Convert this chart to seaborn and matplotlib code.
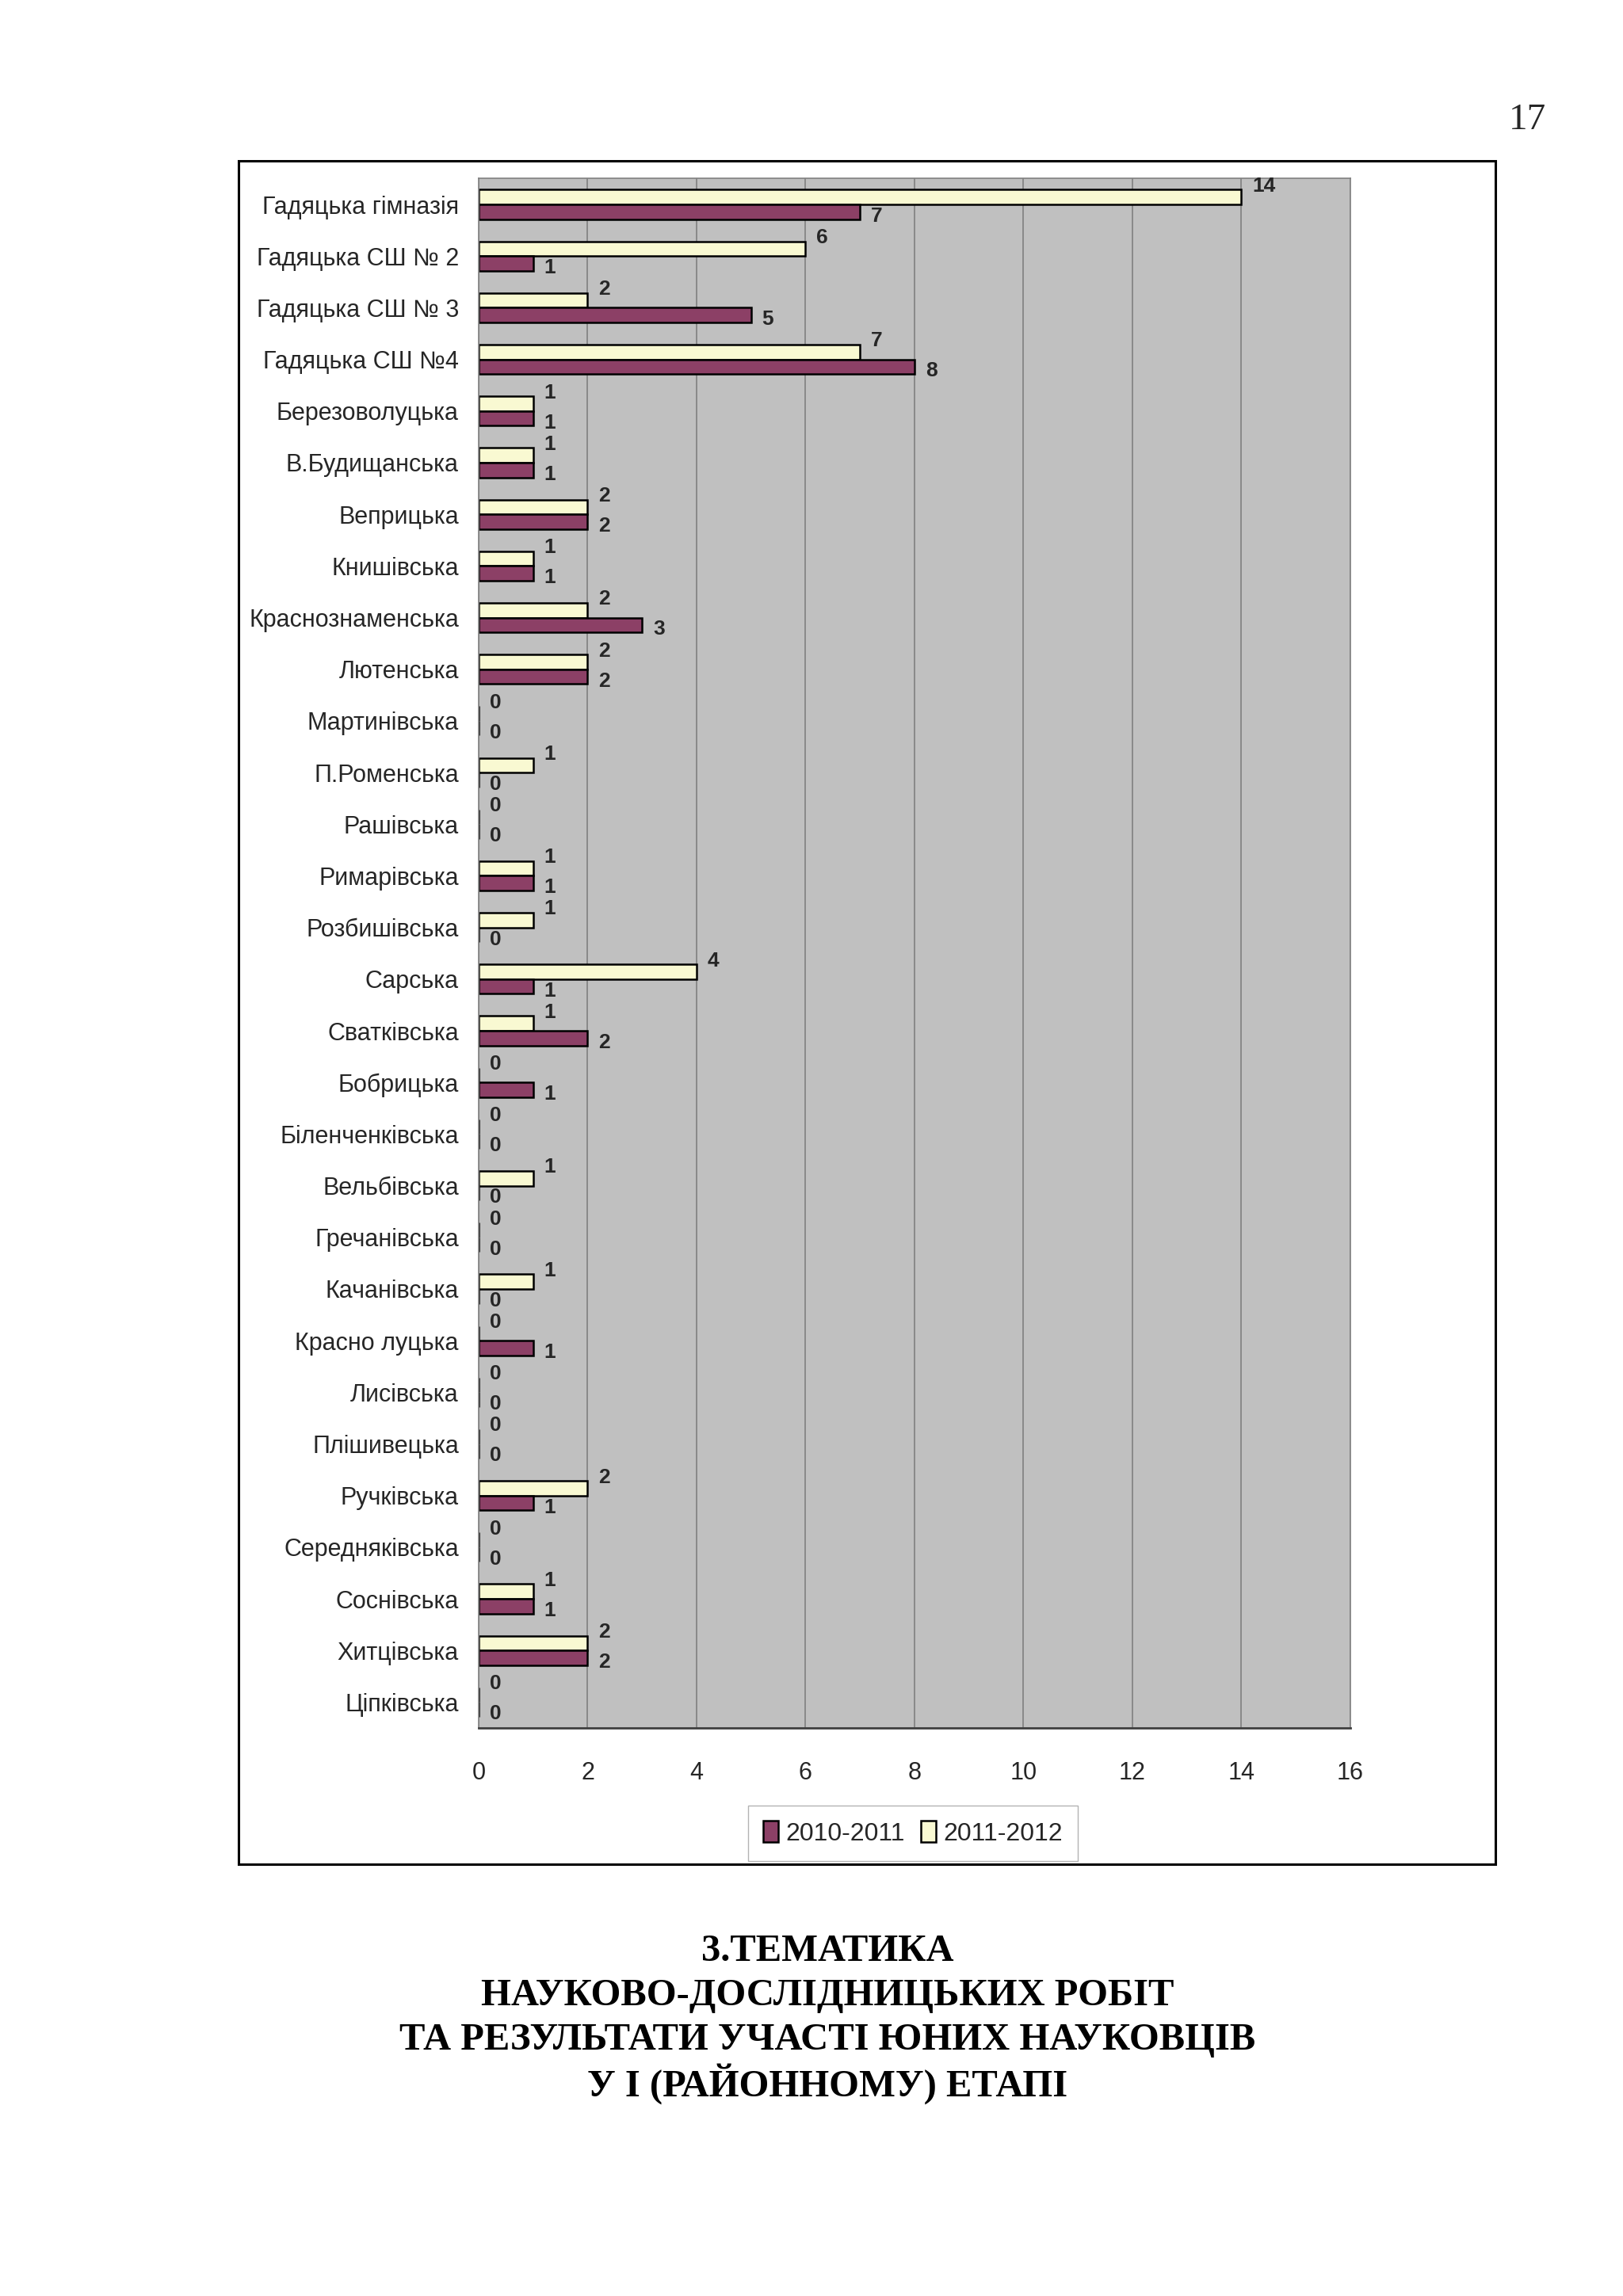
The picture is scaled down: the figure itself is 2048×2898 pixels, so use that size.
import matplotlib
matplotlib.use("Agg")
import matplotlib.pyplot as plt
import matplotlib.patches as mpatches
import seaborn as sns
import pandas as pd
import numpy as np

schools = ["Гадяцька гімназія", "Гадяцька СШ № 2", "Гадяцька СШ № 3", "Гадяцька СШ №4",
           "Березоволуцька", "В.Будищанська", "Веприцька", "Книшівська", "Краснознаменська",
           "Лютенська", "Мартинівська", "П.Роменська", "Рашівська", "Римарівська",
           "Розбишівська", "Сарська", "Сватківська", "Бобрицька", "Біленченківська",
           "Вельбівська", "Гречанівська", "Качанівська", "Красно луцька", "Лисівська",
           "Плішивецька", "Ручківська", "Середняківська", "Соснівська", "Хитцівська",
           "Ціпківська"]
y2010 = [7, 1, 5, 8, 1, 1, 2, 1, 3, 2, 0, 0, 0, 1, 0, 1, 2, 1, 0, 0,
         0, 0, 1, 0, 0, 1, 0, 1, 2, 0]
y2011 = [14, 6, 2, 7, 1, 1, 2, 1, 2, 2, 0, 1, 0, 1, 1, 4, 1, 0, 0, 1,
         0, 1, 0, 0, 0, 2, 0, 1, 2, 0]
seasons = ["2010-2011", "2011-2012"]
xticks = [0, 2, 4, 6, 8, 10, 12, 14, 16]
title_lines = ["3.ТЕМАТИКА", "НАУКОВО-ДОСЛІДНИЦЬКИХ РОБІТ",
               "ТА РЕЗУЛЬТАТИ УЧАСТІ ЮНИХ НАУКОВЦІВ", "У І (РАЙОННОМУ) ЕТАПІ"]

df = pd.concat([
    pd.DataFrame({"school": schools, "value": y2010, "season": seasons[0]}),
    pd.DataFrame({"school": schools, "value": y2011, "season": seasons[1]}),
])

sns.set_style("white")
plt.rcParams["font.family"] = ["Liberation Sans", "DejaVu Sans"]

fig = plt.figure(figsize=(20.48, 28.98), dpi=100)
ax = fig.add_axes([0.2949, 0.2474, 0.5371, 0.6748])
ax.set_facecolor("#C0C0C0")

colors = {"2010-2011": "#993366", "2011-2012": "#FFFFCC"}
sns.barplot(data=df, y="school", x="value", hue="season",
            hue_order=["2011-2012", "2010-2011"], palette=colors,
            orient="h", width=0.57, edgecolor="black", linewidth=1.8,
            ax=ax, legend=True)

# data labels: upper series nudged up, lower series nudged down
offsets = [(10, 10), (10, -4)]
for cont, (dx, dy) in zip(ax.containers, offsets):
    for bar, val in zip(cont, cont.datavalues):
        ax.annotate(f"{val:.0f}", (bar.get_width(), bar.get_y() + bar.get_height() / 2),
                    xytext=(dx, dy), textcoords="offset points",
                    ha="left", va="center", fontsize=19, fontweight="bold")

ax.set_xlim(0, 16)
ax.set_ylim(29.5, -0.5)
ax.set_xticks(xticks)
ax.set_xticklabels([str(t) for t in xticks], fontsize=22)
ax.tick_params(axis="x", direction="out", length=8, color="#808080", pad=22)
ax.tick_params(axis="y", length=0, labelsize=22, pad=18)
ax.set_yticks(np.arange(-0.5, 30, 1), minor=True)
ax.tick_params(axis="y", which="minor", direction="out", length=6, color="#808080")
ax.set_xlabel("")
ax.set_ylabel("")
ax.xaxis.grid(True, color="#808080", linewidth=1.2)
ax.set_axisbelow(True)
for s in ["top", "right", "left"]:
    ax.spines[s].set_color("#808080")
    ax.spines[s].set_linewidth(1.2)
ax.spines["bottom"].set_color("#404040")
ax.spines["bottom"].set_linewidth(2)

handles, labels = ax.get_legend_handles_labels()
ax.get_legend().remove()
order = [labels.index(s) for s in seasons]
fig.legend([handles[i] for i in order], [labels[i] for i in order],
           loc="center", bbox_to_anchor=(0.5625, 0.2015), ncol=2,
           fontsize=23, frameon=True, fancybox=False, edgecolor="#A0A0A0",
           handlelength=0.6, handleheight=0.9, handletextpad=0.3,
           columnspacing=0.6, borderpad=0.6)

# chart frame
fig.patches.append(mpatches.Rectangle((0.147, 0.188), 0.7744, 0.742,
                                      transform=fig.transFigure, fill=False,
                                      edgecolor="black", linewidth=2.2))

fig.text(0.941, 0.9476, "17", fontsize=34, family="Liberation Serif",
         ha="center", va="center")

ys = [0.1500, 0.1309, 0.1115, 0.0925]
for line, yy in zip(title_lines, ys):
    fig.text(0.51, yy, line, fontsize=35, family="Liberation Serif",
             fontweight="bold", ha="center", va="center", color="black")

fig.savefig("out.png", dpi=100, facecolor="white")
